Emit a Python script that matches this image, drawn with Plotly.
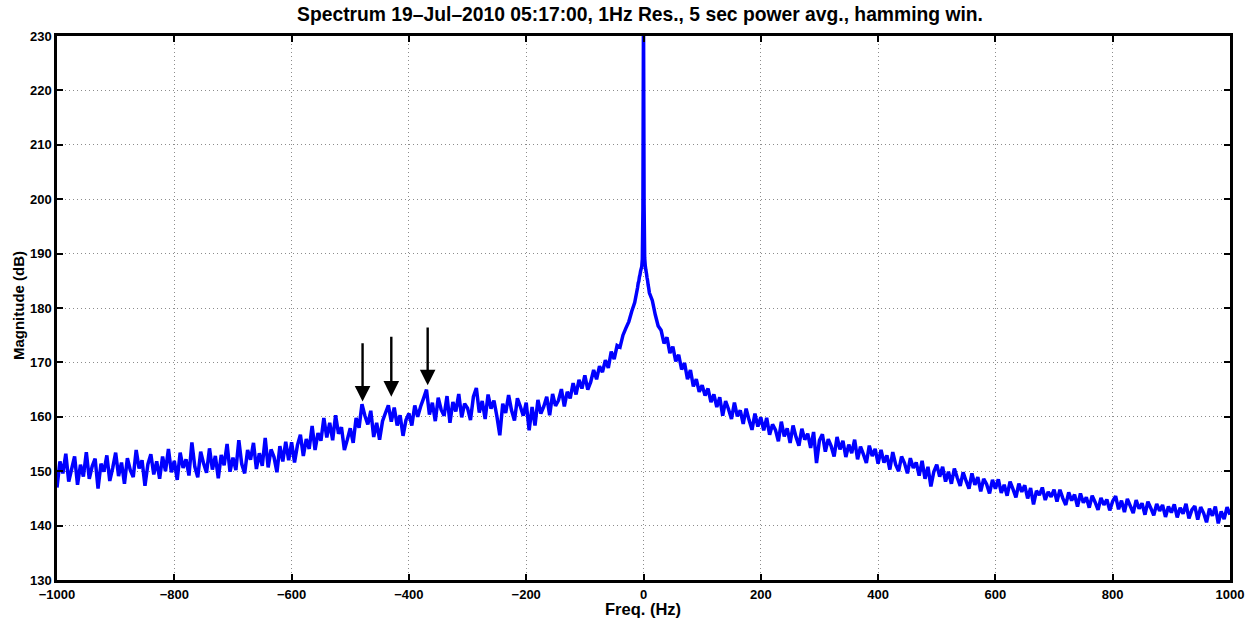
import plotly.graph_objects as go

# ---------------- data ----------------
# left part: -1000 ... -15 Hz, 5 Hz steps
freq_left = list(range(-1000, -10, 5))
mag_left = [
    147.0, 151.8, 149.6, 153.2, 148.1, 150.4, 152.7, 147.5, 151.2, 149.0, 153.5, 148.6, 150.9, 152.3, 146.8, 151.4, 149.9, 152.9, 148.2, 150.6,
    153.4, 149.1, 151.6, 147.7, 152.4, 150.2, 148.9, 153.9, 150.5, 152.0, 147.3, 151.3, 153.1, 149.4, 151.8, 148.6, 152.7, 150.0, 154.1, 149.8,
    151.9, 148.4, 153.4, 150.6, 152.2, 149.2, 155.3, 150.8, 148.9, 153.6, 151.4, 149.7, 154.2, 150.3, 152.8, 148.7, 153.0, 151.1, 155.0, 149.9,
    152.5, 150.2, 155.7, 151.3, 149.6, 153.9, 152.1, 155.2, 150.4, 153.3, 151.0, 156.1, 150.7, 154.0, 152.6, 149.8, 154.6, 151.8, 155.4, 152.0,
    155.3, 151.6, 154.8, 156.7, 152.8, 155.9, 154.1, 158.3, 153.9, 157.0, 155.6, 159.8, 156.2, 158.9, 155.7, 160.3, 156.9, 158.1, 153.9, 155.8,
    157.9, 155.2, 159.8, 158.0, 162.3, 160.2, 158.6, 161.1, 156.3, 158.9, 155.8, 159.2, 160.7, 162.1, 159.1, 161.7, 158.4, 160.3, 156.5, 159.4,
    160.6, 158.4, 162.1, 160.0, 161.9, 163.4, 165.0, 160.4, 162.6, 159.2, 163.5, 161.3, 160.2, 163.8, 158.9, 162.7, 161.0, 164.2, 159.9, 162.4,
    161.6, 159.4, 163.7, 165.3, 160.8, 162.9, 159.6, 164.1, 161.5, 163.0, 160.1, 156.6, 162.4, 160.7, 164.0, 161.2, 159.3, 163.4, 161.9, 160.2,
    162.6, 157.5, 161.8, 158.4, 163.1, 160.6, 161.9, 163.7, 160.3, 164.2, 162.0, 163.0, 165.1, 161.9, 164.6, 163.4, 166.2, 164.1, 166.8, 165.2,
    167.6, 165.0, 166.4, 168.6, 166.9, 169.3, 168.2, 170.4, 169.0, 172.0, 170.6, 173.1, 172.8, 175.0, 176.3, 177.5, 179.4, 181.0,
]

# carrier: -10 ... 10 Hz, 1 Hz steps
freq_center = list(range(-10, 11))
mag_center = [
    183.8, 184.6, 184.9, 185.7, 186.1, 186.8, 187.2, 187.6, 189.0, 198.0, 235.0,
    199.0, 189.2, 187.8, 187.0, 186.4, 185.6, 185.0, 184.2, 183.6, 182.8,
]

# right part: 15 ... 1000 Hz, 5 Hz steps
freq_right = list(range(15, 1001, 5))
mag_right = [
    181.4, 178.8, 176.7, 175.9, 173.5, 174.6, 171.7, 172.9, 170.2, 171.4, 168.7, 169.9, 166.9, 168.6, 165.6, 166.9, 164.6, 165.8,
    163.9, 165.2, 162.7, 164.1, 161.8, 163.6, 160.2, 162.9, 161.4, 159.6, 162.6, 160.1, 161.2, 158.7, 161.5, 159.4, 157.6, 160.6, 158.2, 159.9,
    157.5, 159.8, 156.7, 158.6, 157.6, 155.5, 159.1, 156.4, 157.9, 155.2, 158.4, 156.3, 154.7, 157.8, 155.8, 156.9, 154.3, 157.2, 151.5, 155.7,
    156.8, 153.6, 155.9, 154.6, 152.7, 156.3, 154.0, 155.6, 152.6, 154.9, 153.3, 155.8, 152.2, 154.5, 153.1, 151.5, 154.7, 152.8, 154.1, 151.4,
    153.9, 151.6, 152.9, 150.3, 153.5, 151.2, 150.0, 152.7, 151.5, 149.6, 152.4, 150.6, 151.6, 149.2, 151.9, 148.6, 150.8, 147.2, 149.9, 151.2,
    149.0, 150.8, 148.1, 149.9, 147.7, 150.5, 148.8, 147.3, 149.8, 148.2, 146.8, 149.6, 147.5, 148.9, 146.3, 148.6, 147.6, 145.9, 148.4, 146.8,
    148.5, 146.0, 147.5, 145.5, 148.1, 146.7, 145.2, 147.7, 146.2, 147.4, 145.0, 146.9, 143.9, 146.4, 145.6, 147.0, 144.7, 146.2, 145.3, 146.6,
    144.4, 146.6, 145.0, 143.8, 146.1, 144.6, 145.7, 143.5, 145.9, 144.2, 145.2, 143.3, 145.5, 144.3, 142.9, 145.1, 143.8, 144.8, 142.8, 144.5,
    145.4, 143.0, 144.6, 142.5, 144.9, 143.6, 142.3, 144.7, 143.1, 144.1, 142.0, 144.4, 143.2, 141.9, 144.0, 142.7, 143.8, 141.6, 143.5, 142.4,
    143.9, 141.5, 143.3, 142.2, 144.0, 141.3, 142.9, 143.6, 141.1, 143.4, 142.3, 140.6, 143.1, 141.8, 143.5, 140.4, 142.6, 141.2, 143.4, 142.0,
]

# arrows marking the sidebands
arrow_freq = [-479, -430, -368]
arrow_tail_db = [173.8, 175.0, 176.7]
arrow_tip_db = [162.8, 163.7, 165.8]

x_ticks = [-1000, -800, -600, -400, -200, 0, 200, 400, 600, 800, 1000]
x_tick_text = ["\u22121000", "\u2212800", "\u2212600", "\u2212400", "\u2212200", "0",
               "200", "400", "600", "800", "1000"]
y_ticks = [130, 140, 150, 160, 170, 180, 190, 200, 210, 220, 230]

title_text = "Spectrum 19\u2013Jul\u20132010 05:17:00, 1Hz Res., 5 sec power avg., hamming win."
x_title = "Freq. (Hz)"
y_title = "Magnitude (dB)"

# ---------------- figure ----------------
freq = freq_left + freq_center + freq_right
mag = mag_left + mag_center + mag_right

FONT = "Liberation Sans, Arial, Helvetica, sans-serif"
W, H = 1256, 619
ML, MR, MT, MB = 57, 24, 36, 39
PW, PH = W - ML - MR, H - MT - MB

fig = go.Figure()
fig.add_trace(go.Scatter(
    x=freq, y=mag, mode="lines",
    line=dict(color="#0000FF", width=3.5, simplify=False),
    showlegend=False, hoverinfo="x+y",
))

for f, t0, t1 in zip(arrow_freq, arrow_tail_db, arrow_tip_db):
    fig.add_annotation(
        x=f, y=t1, ax=f, ay=t0,
        xref="x", yref="y", axref="x", ayref="y",
        showarrow=True, arrowhead=2, arrowsize=1.3, arrowwidth=2.4,
        arrowcolor="black", text="",
    )

# axis titles placed as paper annotations for exact positioning
fig.add_annotation(
    text=x_title, xref="paper", yref="paper", x=(644 - ML) / PW, y=-(609 - (MT + PH)) / PH,
    xanchor="center", yanchor="middle", showarrow=False,
    font=dict(family=FONT, size=16.5, color="black", weight="bold"),
)
fig.add_annotation(
    text=y_title, xref="paper", yref="paper", x=(18 - ML) / PW, y=(MT + PH - 306) / PH,
    xanchor="center", yanchor="middle", showarrow=False, textangle=-90,
    font=dict(family=FONT, size=15, color="black", weight="bold"),
)

axis_common = dict(
    showline=True, linecolor="black", linewidth=2.5, mirror="allticks",
    ticks="inside", ticklen=6, tickwidth=1.5, tickcolor="black",
    showgrid=True, gridcolor="#8c8c8c", gridwidth=1, griddash="1px,3px",
    zeroline=False,
    tickfont=dict(family=FONT, size=13, color="black", weight="bold"),
)

fig.update_xaxes(
    range=[-1000, 1000], tickvals=x_ticks, ticktext=x_tick_text,
    ticklabelstandoff=1,
    **axis_common,
)
fig.update_yaxes(
    range=[130, 230], tickvals=y_ticks,
    **axis_common,
)

fig.update_layout(
    width=W, height=H,
    margin=dict(l=ML, r=MR, t=MT, b=MB),
    paper_bgcolor="white", plot_bgcolor="white",
    title=dict(text=title_text, x=(640) / W, xanchor="center", y=1 - 14 / H, yanchor="middle",
               font=dict(family=FONT, size=19.3, color="black", weight="bold")),
)

fig.write_html(
    "out.html",
    config={"displayModeBar": False},
    post_script="document.body.style.margin='0px';document.body.style.overflow='hidden';",
)
